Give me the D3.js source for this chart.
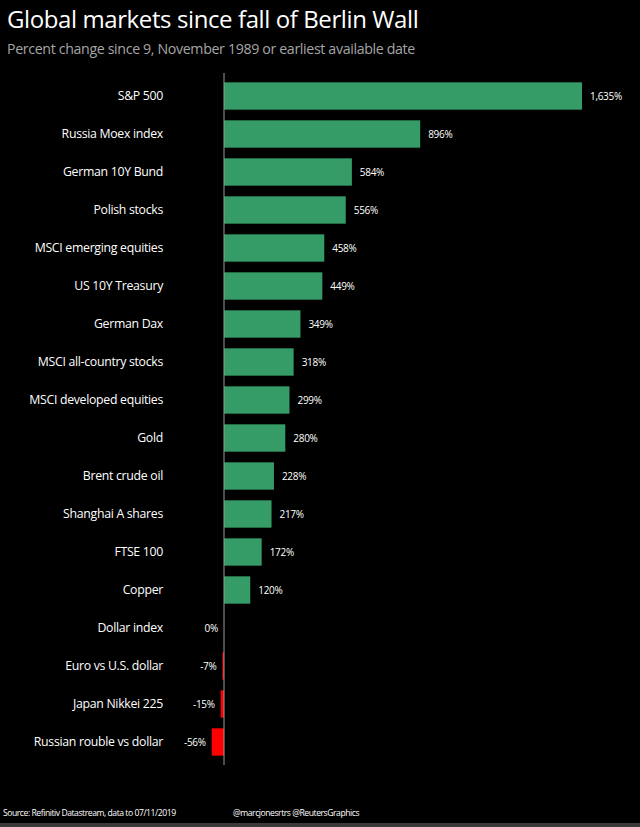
<!DOCTYPE html>
<html>
<head>
<meta charset="utf-8">
<script src="https://cdn.jsdelivr.net/npm/d3@7"></script>
<style>
  html, body { margin: 0; padding: 0; background: #000; }
  svg { display: block; font-family: "Open Sans", sans-serif; }
</style>
</head>
<body>
<svg id="chart"></svg>
<script>
// Data
const categories = [
    'S&P 500', 'Russia Moex index', 'German 10Y Bund', 'Polish stocks',
    'MSCI emerging equities', 'US 10Y Treasury', 'German Dax',
    'MSCI all-country stocks', 'MSCI developed equities', 'Gold',
    'Brent crude oil', 'Shanghai A shares', 'FTSE 100', 'Copper',
    'Dollar index', 'Euro vs U.S. dollar', 'Japan Nikkei 225',
    'Russian rouble vs dollar'
];
const values = [1635, 896, 584, 556, 458, 449, 349, 318, 299, 280, 228, 217, 172, 120, 0, -7, -15, -56];

const data = categories.map((c, i) => ({name: c, value: values[i]}));

const width = 640, height = 827;
const svg = d3.select('#chart')
    .attr('width', width)
    .attr('height', height);

svg.append('rect')
    .attr('width', width)
    .attr('height', height)
    .attr('fill', '#000');

// Title and subtitle
svg.append('text')
    .attr('x', 7)
    .attr('y', 28)
    .attr('fill', '#fff')
    .attr('font-size', 24)
    .attr('letter-spacing', -0.4)
    .text('Global markets since fall of Berlin Wall');

svg.append('text')
    .attr('x', 7)
    .attr('y', 54)
    .attr('fill', '#a6a6a6')
    .attr('font-size', 14.2)
    .attr('letter-spacing', -0.35)
    .text('Percent change since 9, November 1989 or earliest available date');

// Scales
const x = d3.scaleLinear()
    .domain([0, 1635])
    .range([224, 582]);

const y = d3.scaleBand()
    .domain(categories)
    .range([77, 761])
    .paddingInner(0.28)
    .paddingOuter(0.14);

const plot = svg.append('g');

plot.selectAll('rect.bar').data(data)
    .join('rect')
    .attr('class', 'bar')
    .attr('x', d => x(Math.min(0, d.value)))
    .attr('y', d => y(d.name))
    .attr('width', d => Math.abs(x(d.value) - x(0)))
    .attr('height', y.bandwidth())
    .attr('fill', d => d.value < 0 ? '#ff0000' : '#359c68');

// zero line
plot.append('line')
    .attr('x1', x(0)).attr('x2', x(0))
    .attr('y1', 73).attr('y2', 765)
    .attr('stroke', '#999')
    .attr('stroke-width', 1);

// category labels
plot.selectAll('text.cat').data(data)
    .join('text')
    .attr('class', 'cat')
    .attr('x', 163)
    .attr('y', d => y(d.name) + y.bandwidth() / 2)
    .attr('dy', '0.35em')
    .attr('text-anchor', 'end')
    .attr('fill', '#fff')
    .attr('font-size', 12.3)
    .attr('letter-spacing', -0.3)
    .text(d => d.name);

// value labels (plain hyphen for negatives, like the original)
const fmt = v => d3.format(',')(v).replace('\u2212', '-');
plot.selectAll('text.val').data(data)
    .join('text')
    .attr('class', 'val')
    .attr('x', d => d.value > 0 ? x(d.value) + 8 : x(Math.min(0, d.value)) - 6)
    .attr('y', d => y(d.name) + y.bandwidth() / 2)
    .attr('dy', '0.35em')
    .attr('text-anchor', d => d.value > 0 ? 'start' : 'end')
    .attr('fill', '#fff')
    .attr('font-size', 10)
    .attr('letter-spacing', -0.3)
    .text(d => fmt(d.value) + '%');

// footer
svg.append('text')
    .attr('x', 3)
    .attr('y', 816)
    .attr('fill', '#fff')
    .attr('font-size', 8.6)
    .attr('letter-spacing', -0.45)
    .text('Source: Refinitiv Datastream, data to 07/11/2019');

svg.append('text')
    .attr('x', 233)
    .attr('y', 816)
    .attr('fill', '#fff')
    .attr('font-size', 8.6)
    .attr('letter-spacing', -0.45)
    .text('@marcjonesrtrs @ReutersGraphics');

svg.append('rect')
    .attr('x', 0)
    .attr('y', 823)
    .attr('width', width)
    .attr('height', 4)
    .attr('fill', '#3a3a3a');
</script>
</body>
</html>
